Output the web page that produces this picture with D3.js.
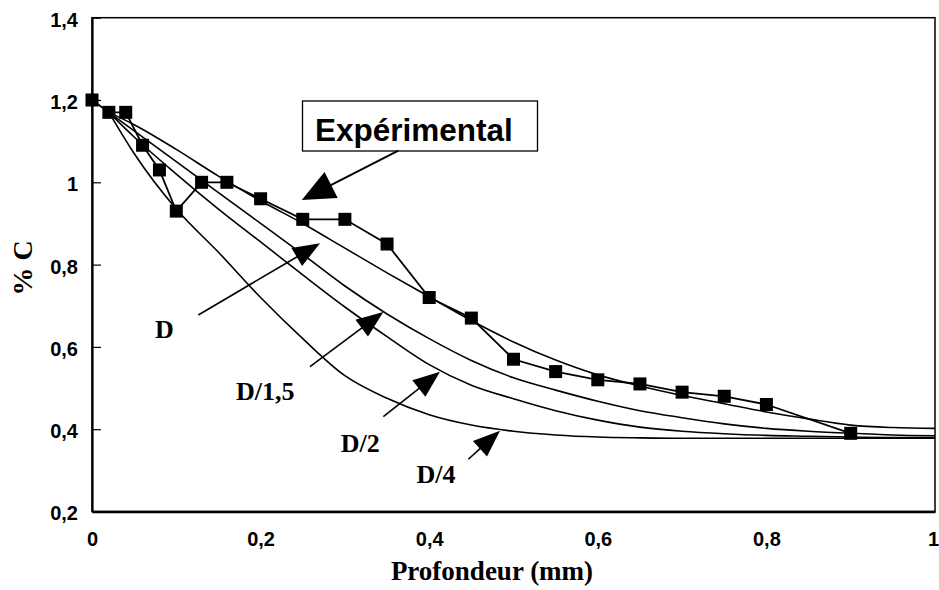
<!DOCTYPE html>
<html>
<head>
<meta charset="utf-8">
<script src="https://cdn.jsdelivr.net/npm/d3@7"></script>
<style>
  html, body { margin: 0; padding: 0; background: #fff; }
  svg { display: block; }
</style>
</head>
<body>
<svg id="chart" width="939" height="590"></svg>
<script>
// ---------- data ----------
const depthExp  = [0, 0.02, 0.04, 0.06, 0.08, 0.10, 0.13, 0.16, 0.20, 0.25, 0.30, 0.35, 0.40, 0.45, 0.50, 0.55, 0.60, 0.65, 0.70, 0.75, 0.80, 0.90];
const carbonExp = [1.20, 1.17, 1.17, 1.09, 1.03, 0.93, 1.00, 1.00, 0.96, 0.91, 0.91, 0.85, 0.72, 0.67, 0.57, 0.54, 0.52, 0.51, 0.49, 0.48, 0.46, 0.39];

const depthModel = [0.02, 0.05, 0.10, 0.15, 0.20, 0.25, 0.30, 0.35, 0.40, 0.45, 0.50, 0.55, 0.60, 0.65, 0.70, 0.75, 0.80, 0.85, 0.90, 0.95, 1.00];
const carbonD    = [1.17, 1.14, 1.08, 1.015, 0.955, 0.90, 0.84, 0.78, 0.722, 0.664, 0.612, 0.568, 0.532, 0.505, 0.482, 0.462, 0.442, 0.425, 0.410, 0.404, 0.402];
const carbonD15  = [1.17, 1.125, 1.05, 0.975, 0.90, 0.825, 0.748, 0.68, 0.62, 0.567, 0.525, 0.495, 0.468, 0.445, 0.428, 0.413, 0.402, 0.395, 0.390, 0.386, 0.384];
const carbonD2   = [1.17, 1.11, 1.02, 0.935, 0.855, 0.775, 0.697, 0.625, 0.557, 0.507, 0.474, 0.445, 0.422, 0.405, 0.395, 0.389, 0.385, 0.383, 0.381, 0.380, 0.380];
const carbonD4   = [1.17, 1.07, 0.935, 0.83, 0.72, 0.62, 0.53, 0.475, 0.435, 0.41, 0.395, 0.386, 0.381, 0.379, 0.378, 0.378, 0.378, 0.378, 0.378, 0.378, 0.378];

const xTicks = [0, 0.2, 0.4, 0.6, 0.8, 1];
const yTicks = [0.2, 0.4, 0.6, 0.8, 1, 1.2, 1.4];
const xTickLabels = ["0", "0,2", "0,4", "0,6", "0,8", "1"];
const yTickLabels = ["0,2", "0,4", "0,6", "0,8", "1", "1,2", "1,4"];

// annotations: label text, label anchor (data units), arrow tail -> tip (data units)
const annLabels = ["D", "D/1,5", "D/2", "D/4"];
const annLabelX = [0.0747, 0.1708, 0.295, 0.385];
const annLabelY = [0.6216, 0.471, 0.3446, 0.2693];
const annTailX  = [0.1261, 0.2586, 0.3456, 0.4464];
const annTailY  = [0.6775, 0.5519, 0.4304, 0.3269];
const annTipX   = [0.2705, 0.3456, 0.4128, 0.484];
const annTipY   = [0.8518, 0.6848, 0.5397, 0.3964];

const expBoxText = "Expérimental";
const expArrowTail = [0.3634, 1.0768];
const expArrowTip  = [0.2488, 0.957];

// ---------- layout ----------
const svg = d3.select("#chart");
const plotL = 92, plotR = 935, plotT = 17.7, plotB = 511.5;

const x = d3.scaleLinear().domain([0, 1]).range([plotL, plotR]);
const y = d3.scaleLinear().domain([0.2, 1.4]).range([plotB, plotT]);

// frame
svg.append("rect")
  .attr("x", plotL).attr("y", plotT)
  .attr("width", plotR - plotL).attr("height", plotB - plotT)
  .attr("fill", "none").attr("stroke", "#000").attr("stroke-width", 1.5);

// y axis
const yAxis = d3.axisLeft(y).tickValues(yTicks)
  .tickFormat((d, i) => yTickLabels[i]).tickSizeInner(-9).tickSizeOuter(0).tickPadding(14);
const gy = svg.append("g").attr("transform", `translate(${plotL},0)`).call(yAxis);
gy.select(".domain").attr("stroke", "#000").attr("stroke-width", 2.2);
gy.selectAll(".tick line").attr("stroke", "#000").attr("stroke-width", 1.2);
gy.selectAll(".tick text")
  .attr("font-family", "'Liberation Sans', Arial, sans-serif")
  .attr("font-weight", "bold").attr("font-size", 20).attr("fill", "#000")
  .attr("dy", "0.42em");

// x axis
const xAxis = d3.axisBottom(x).tickValues(xTicks)
  .tickFormat((d, i) => xTickLabels[i]).tickSize(0).tickPadding(20);
const gx = svg.append("g").attr("transform", `translate(0,${plotB})`).call(xAxis);
gx.select(".domain").attr("stroke", "#000").attr("stroke-width", 2.6);
gx.selectAll(".tick text")
  .attr("font-family", "'Liberation Sans', Arial, sans-serif")
  .attr("font-weight", "bold").attr("font-size", 20).attr("fill", "#000");
// last label sits flush with the right edge, as in the reference
gx.selectAll(".tick text").filter((d, i) => i === xTicks.length - 1)
  .attr("text-anchor", "end").attr("x", 3.5);

// axis titles
svg.append("text")
  .attr("x", 492).attr("y", 580)
  .attr("text-anchor", "middle")
  .attr("font-family", "'Liberation Serif', 'Times New Roman', serif")
  .attr("font-weight", "bold").attr("font-size", 27)
  .text("Profondeur (mm)");

svg.append("text")
  .attr("transform", "translate(32,268) rotate(-90)")
  .attr("text-anchor", "middle")
  .attr("font-family", "'Liberation Serif', 'Times New Roman', serif")
  .attr("font-weight", "bold").attr("font-size", 28)
  .text("% C");

// model curves
const modelSeries = [carbonD, carbonD15, carbonD2, carbonD4];
const curveLine = d3.line()
  .x((d, i) => x(depthModel[i]))
  .y(d => y(d))
  .curve(d3.curveMonotoneX);
svg.append("g").selectAll("path")
  .data(modelSeries).join("path")
  .attr("d", d => curveLine(d))
  .attr("fill", "none").attr("stroke", "#000").attr("stroke-width", 1.6);

// experimental series
const expLine = d3.line()
  .x((d, i) => x(depthExp[i]))
  .y(d => y(d));
svg.append("path")
  .attr("d", expLine(carbonExp))
  .attr("fill", "none").attr("stroke", "#000").attr("stroke-width", 1.8);

const sq = 13;
svg.append("g").selectAll("rect")
  .data(carbonExp).join("rect")
  .attr("x", (d, i) => x(depthExp[i]) - sq / 2)
  .attr("y", d => y(d) - sq / 2)
  .attr("width", sq).attr("height", sq)
  .attr("fill", "#000");

// arrow helper
function arrow(x1, y1, x2, y2, headLen, headHalf, sw) {
  const dx = x2 - x1, dy = y2 - y1;
  const len = Math.hypot(dx, dy);
  const ux = dx / len, uy = dy / len;
  const bx = x2 - ux * headLen, by = y2 - uy * headLen;
  svg.append("line")
    .attr("x1", x1).attr("y1", y1).attr("x2", bx + ux * 2).attr("y2", by + uy * 2)
    .attr("stroke", "#000").attr("stroke-width", sw);
  svg.append("path")
    .attr("d", `M${x2},${y2} L${bx - uy * headHalf},${by + ux * headHalf} L${bx + uy * headHalf},${by - ux * headHalf} Z`)
    .attr("fill", "#000");
}

// annotation arrows and labels
annLabels.forEach((lab, i) => {
  arrow(x(annTailX[i]), y(annTailY[i]), x(annTipX[i]), y(annTipY[i]), 27, 10.5, 1.6);
  svg.append("text")
    .attr("x", x(annLabelX[i])).attr("y", y(annLabelY[i]))
    .attr("font-family", "'Liberation Serif', 'Times New Roman', serif")
    .attr("font-weight", "bold").attr("font-size", 26)
    .text(lab);
});

// Expérimental box + arrow
svg.append("rect")
  .attr("x", 302.5).attr("y", 101).attr("width", 235).attr("height", 50)
  .attr("fill", "#fff").attr("stroke", "#000").attr("stroke-width", 1.3);
svg.append("text")
  .attr("x", 315).attr("y", 140.5)
  .attr("font-family", "'Liberation Sans', Arial, sans-serif")
  .attr("font-weight", "bold").attr("font-size", 31.5)
  .text(expBoxText);
arrow(x(expArrowTail[0]), y(expArrowTail[1]), x(expArrowTip[0]), y(expArrowTip[1]), 33, 14.5, 2);
</script>
</body>
</html>
